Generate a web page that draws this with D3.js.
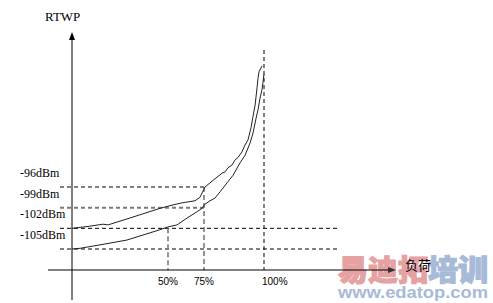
<!DOCTYPE html>
<html>
<head>
<meta charset="utf-8">
<script src="https://cdn.jsdelivr.net/npm/d3@7"></script>
<style>
  body { margin: 0; background: #fff; }
  svg { display: block; }
</style>
</head>
<body>
<svg id="chart" width="493" height="303"></svg>
<script>
// dados (carga em %, RTWP em dBm)
let loadTicks = [50, 75, 100]
let tickLabels = ["50%", "75%", "100%"]
let dbmLevels = [-96, -99, -102, -105]
let dbmLabels = ["-96dBm", "-99dBm", "-102dBm", "-105dBm"]

let upperLoad = [0, 9, 16.1, 18.8, 30.2, 45.8, 53.5, 59.7, 68.8, 72.2, 75, 75.4, 77.5, 79.6, 82.5, 83.8, 85, 86.7, 87.9, 89.2, 90.8, 92.1, 93.3, 94.6, 95.4, 96.3, 97.1, 97.5, 97.9, 99.2]
let upperDbm = [-102, -101.7, -101.4, -101.5, -100.5, -99.1, -98.6, -98.3, -98, -97.5, -96.3, -96, -95.4, -94.8, -94, -93.8, -93.2, -92.8, -92.1, -91.7, -90.9, -89.9, -89.2, -87.4, -85.8, -84.1, -81.6, -80.2, -79.3, -78.4]

let lowerLoad = [0, 4.2, 14.6, 28.6, 45.8, 50, 56.3, 63.2, 70.1, 73.6, 75.4, 77.5, 79.6, 81.7, 84.6, 87.1, 90, 92.1, 94.2, 95.4, 96.7, 97.5, 98.3, 99.2, 99.6, 100]
let lowerDbm = [-105, -104.9, -104.4, -103.7, -102.2, -101.8, -101.5, -100.5, -99.6, -99.1, -98.5, -98, -97.6, -96.7, -95.4, -94.3, -92.5, -91.4, -89.6, -88.2, -86, -84.8, -83.2, -81.8, -80.7, -79.6]

let svg = d3.select("#chart")

// escala do eixo x e esquematica (nao linear), por isso o dominio por partes
let x = d3.scaleLinear()
    .domain([0, 50, 75, 100])
    .range([72, 168, 204, 264])

let y = d3.scaleLinear()
    .domain([-105, -96])
    .range([249, 187])

// marca d'agua (fica por baixo do resto)
svg.append("text")
    .attr("x", 338)
    .attr("y", 281)
    .attr("textLength", 90)
    .attr("lengthAdjust", "spacingAndGlyphs")
    .style("font-family", "'Noto Sans CJK SC', sans-serif")
    .style("font-weight", "900")
    .style("font-size", "29px")
    .attr("fill", "#e6a1a3")
    .attr("stroke", "#e6a1a3")
    .attr("stroke-width", 1.2)
    .text("易迪拓")
svg.append("text")
    .attr("x", 428)
    .attr("y", 281)
    .attr("textLength", 60)
    .attr("lengthAdjust", "spacingAndGlyphs")
    .style("font-family", "'Noto Sans CJK SC', sans-serif")
    .style("font-weight", "900")
    .style("font-size", "29px")
    .attr("fill", "#a7bad8")
    .attr("stroke", "#a7bad8")
    .attr("stroke-width", 1.2)
    .text("培训")
svg.append("text")
    .attr("x", 338)
    .attr("y", 298)
    .attr("textLength", 150)
    .attr("lengthAdjust", "spacingAndGlyphs")
    .style("font-family", "'Liberation Sans', sans-serif")
    .style("font-weight", "bold")
    .style("font-size", "17px")
    .attr("fill", "#a7bad8")
    .text("www.edatop.com")

// linhas tracejadas horizontais
let hEnd = [x(75), x(75), 338, 338]
for (let i = 0; i < dbmLevels.length; i++) {
    let gray = dbmLevels[i] == -99
    svg.append("line")
        .attr("x1", 60)
        .attr("x2", hEnd[i])
        .attr("y1", y(dbmLevels[i]))
        .attr("y2", y(dbmLevels[i]))
        .attr("stroke", gray ? "#7a7a7a" : "#000")
        .attr("stroke-width", gray ? 2 : 1)
        .attr("stroke-dasharray", "4,3")

    svg.append("text")
        .attr("x", 20)
        .attr("y", y(dbmLevels[i]) - 10)
        .style("font-family", "'Liberation Serif', serif")
        .style("font-size", "12px")
        .text(dbmLabels[i])
}

// linhas tracejadas verticais
let vTop = [y(-102), y(-96), 50]
for (let i = 0; i < loadTicks.length; i++) {
    let last = loadTicks[i] == 100
    svg.append("line")
        .attr("x1", x(loadTicks[i]))
        .attr("x2", x(loadTicks[i]))
        .attr("y1", vTop[i])
        .attr("y2", 270)
        .attr("stroke", last ? "#000" : "#7a7a7a")
        .attr("stroke-width", last ? 1 : 1.6)
        .attr("stroke-dasharray", last ? "4,3" : "5,3")

    svg.append("text")
        .attr("x", last ? x(loadTicks[i]) - 2 : x(loadTicks[i]))
        .attr("y", 285)
        .style("text-anchor", last ? "start" : "middle")
        .style("font-family", "'Liberation Sans', sans-serif")
        .style("font-size", "10px")
        .text(tickLabels[i])
}

// curvas
let line = d3.line()
    .x(d => x(d[0]))
    .y(d => y(d[1]))

let upper = upperLoad.map((v, i) => [v, upperDbm[i]])
let lower = lowerLoad.map((v, i) => [v, lowerDbm[i]])

svg.append("path")
    .datum(upper)
    .attr("d", line)
    .attr("fill", "none")
    .attr("stroke", "#222")
    .attr("stroke-width", 1)

svg.append("path")
    .datum(lower)
    .attr("d", line)
    .attr("fill", "none")
    .attr("stroke", "#222")
    .attr("stroke-width", 1)

// eixos com setas
svg.append("line")
    .attr("x1", 72).attr("x2", 72)
    .attr("y1", 300).attr("y2", 39)
    .attr("stroke", "#000")
svg.append("path")
    .attr("d", "M72,32 L69,40 L75,40 Z")
    .attr("fill", "#000")

svg.append("line")
    .attr("x1", 48).attr("x2", 389)
    .attr("y1", 270).attr("y2", 270)
    .attr("stroke", "#000")
svg.append("path")
    .attr("d", "M396,270 L388,267 L388,273 Z")
    .attr("fill", "#333")

svg.append("text")
    .attr("x", 45)
    .attr("y", 21)
    .style("font-family", "'Liberation Serif', serif")
    .style("font-size", "13px")
    .text("RTWP")

svg.append("text")
    .attr("x", 405)
    .attr("y", 270)
    .style("font-family", "'Noto Sans CJK SC', sans-serif")
    .style("font-size", "13px")
    .text("负荷")
</script>
</body>
</html>
